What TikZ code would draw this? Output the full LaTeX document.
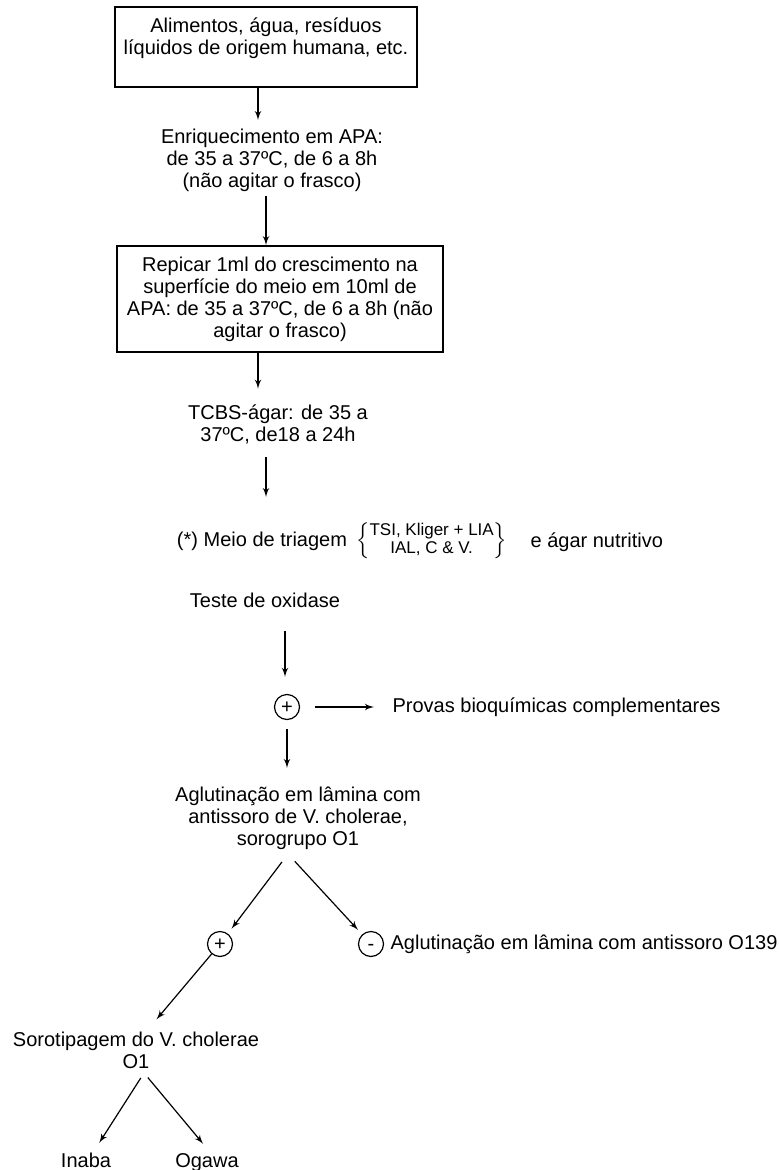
\documentclass[tikz,border=0pt]{standalone}
\usepackage{fontspec}
\setmainfont{Liberation Sans}
\usepackage{tikz}
\usetikzlibrary{arrows,positioning}

\begin{document}
\begin{tikzpicture}[>=latex',semithick,x=0.5pt,y=-0.5pt,
                    font=\fontsize{10}{11}\selectfont]
  \tikzstyle{stepbox} = [rectangle, draw, thick, align=center, inner sep=4pt]
  \tikzstyle{txt} = [align=center, inner sep=2pt]
  \tikzstyle{sign} = [circle, draw, semithick, minimum size=12.5pt, inner sep=0pt,
                      text height=6.5pt, text depth=0pt]

  \useasboundingbox (0,0) rectangle (779,1170);

  \node[stepbox, minimum width=151pt, minimum height=40pt] (src) at (266,47)
       {Alimentos, água, resíduos\\líquidos de origem humana, etc.\\ \mbox{}};
  \node[txt] (enr) at (272,160)
       {Enriquecimento em APA:\\de 35 a 37ºC, de 6 a 8h\\(não agitar o frasco)};
  \node[stepbox, minimum width=163pt, minimum height=53pt] (rep) at (280,299)
       {Repicar 1ml do crescimento na\\superfície do meio em 10ml de\\APA: de 35 a 37ºC, de 6 a 8h (não\\agitar o frasco)};
  \node[txt] (tcbs) at (278,424) {TCBS-ágar: de 35 a\\37ºC, de18 a 24h};

  \node[txt] (meio) at (262,541) {(*) Meio de triagem};
  \node[txt, right=0pt of meio, font=\fontsize{8.5}{9}\selectfont] (grp)
       {$\left\{\begin{tabular}{@{}c@{}}TSI, Kliger + LIA\\IAL, C \& V.\end{tabular}\right\}$};
  \node[txt, anchor=west] (agar) at (526,542) {e ágar nutritivo};

  \node[txt] (teste) at (265,600) {Teste de oxidase};
  \node[sign] (pos1) at (287,707) {+};
  \node[txt, anchor=west] (provas) at (388,707) {Provas bioquímicas complementares};
  \node[txt] (aglut) at (298,818)
       {Aglutinação em lâmina com\\antissoro de V. cholerae,\\sorogrupo O1};
  \node[sign] (pos2) at (220,944) {+};
  \node[sign] (neg) at (371,944) {-};
  \node[txt, anchor=west] (o139) at (386,944) {Aglutinação em lâmina com antissoro O139};
  \node[txt] (soro) at (136,1050) {Sorotipagem do V. cholerae\\O1};
  \node[txt, anchor=base] (inaba) at (86,1167) {Inaba};
  \node[txt, anchor=base] (ogawa) at (207,1167) {Ogawa};

  % main line
  \draw[->, shorten >=2pt] (src.south -| 258,0) -- (enr.north -| 258,0);
  \draw[->] (enr.south -| 266,0) -- (rep.north -| 266,0);
  \draw[->, shorten >=5.5pt] (rep.south -| 258,0) -- (tcbs.north -| 258,0);
  \draw[->, shorten <=4.5pt, shorten >=15pt] (tcbs.south -| 266,0) -- (meio.north -| 266,0);
  \draw[->, shorten <=9.5pt, shorten >=8.5pt] (teste.south -| 285,0) -- (pos1.north -| 285,0);
  \draw[->, shorten <=7.5pt, shorten >=7pt] (pos1.east) -- (pos1.east -| provas.west);
  \draw[->, shorten <=4.5pt, shorten >=7pt] (pos1.south) -- (aglut.north -| pos1.south);

  % sorogrupo
  \draw[->, shorten <=5pt, shorten >=3pt] (aglut.south -| 288,0) -- (pos2);
  \draw[->, shorten <=5pt, shorten >=3pt] (aglut.south -| 288,0) -- (neg);
  \draw[->, shorten >=5pt] (pos2) -- ([xshift=7pt]soro.north);

  % sorotipos
  \draw[->, shorten <=3pt, shorten >=3pt] (soro.south -| 144,0) -- ([xshift=5pt]inaba.north);
  \draw[->, shorten <=3pt, shorten >=3pt] (soro.south -| 144,0) -- (ogawa.north);
\end{tikzpicture}
\end{document}
